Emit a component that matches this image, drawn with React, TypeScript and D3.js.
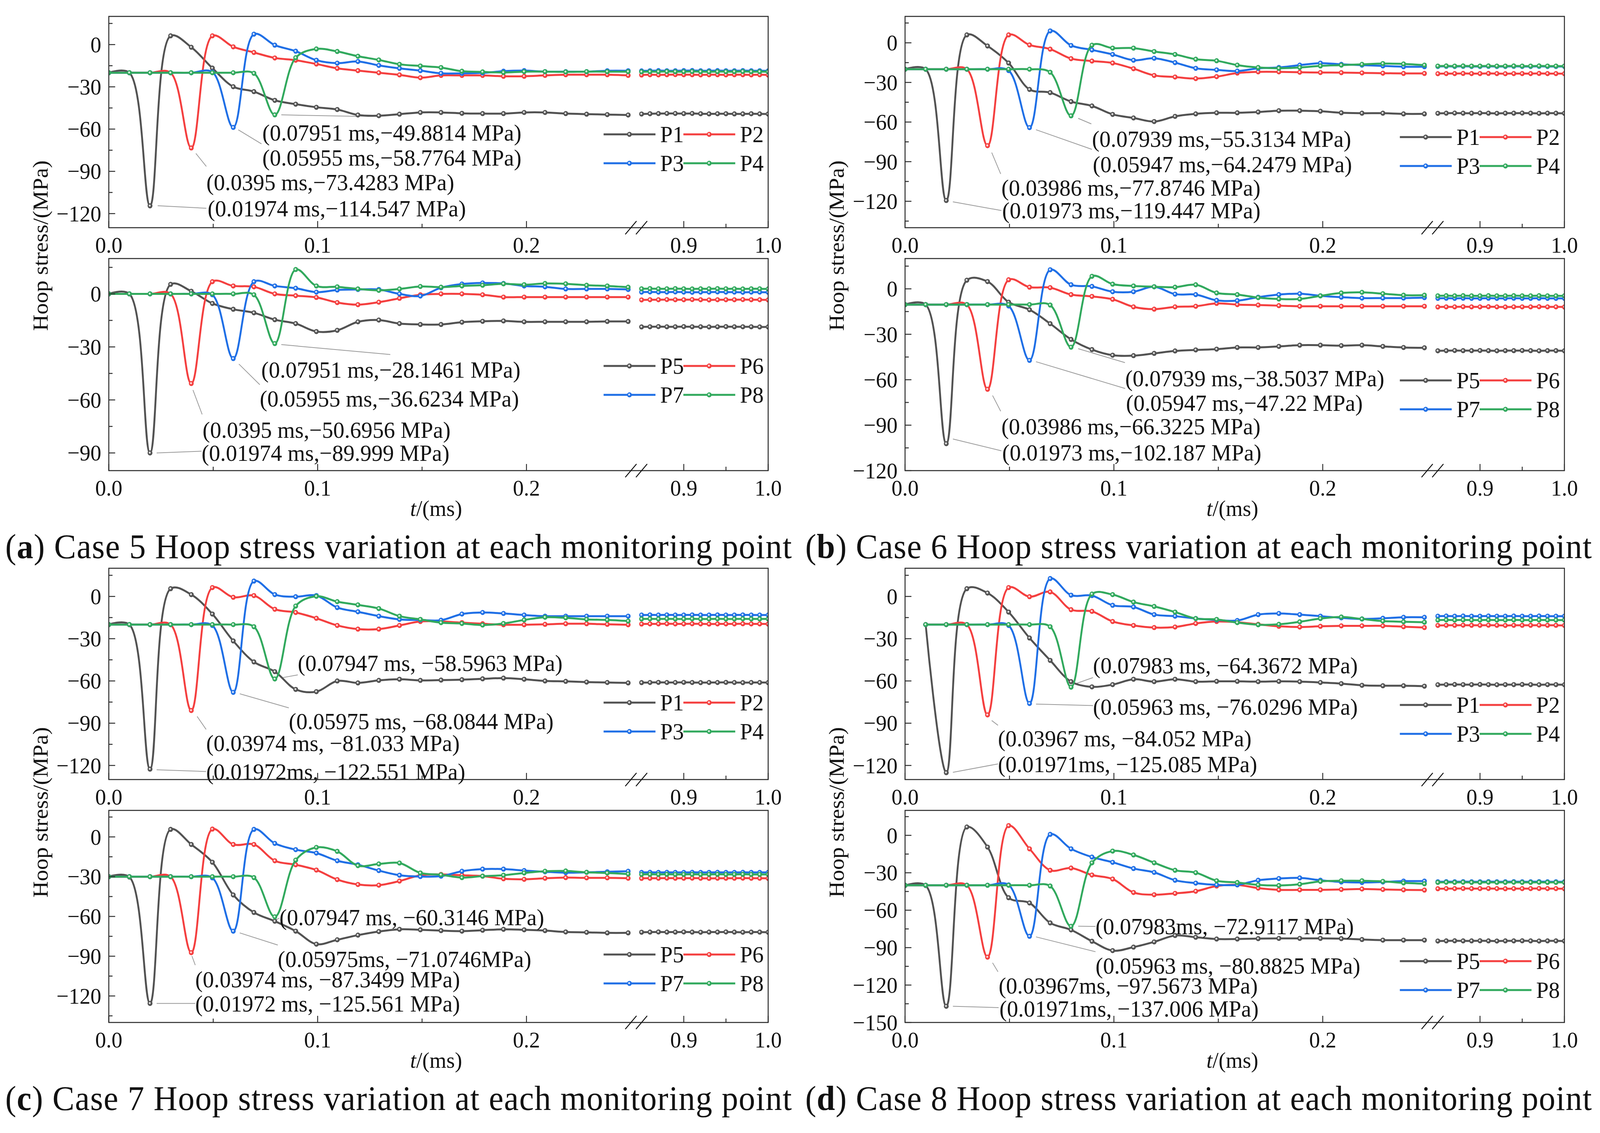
import React from "react";
import * as d3 from "d3";

// ---------- time axis (ms) ----------
const T1 = [0, 0.00987, 0.01974, 0.0296, 0.0395, 0.0496, 0.0596, 0.0695, 0.0795, 0.0895, 0.0994, 0.1094, 0.1193, 0.1293, 0.1392, 0.1492, 0.1591, 0.1691, 0.179, 0.189, 0.1989, 0.2089, 0.2188, 0.2288, 0.2387, 0.2487];
const T2 = [0.85, 0.86, 0.87, 0.88, 0.89, 0.9, 0.91, 0.92, 0.93, 0.94, 0.95, 0.96, 0.97, 0.98, 0.99, 1.0];
const X_MAJOR_1 = [0, 0.1, 0.2];
const X_MINOR_1 = [0.05, 0.15];
const X_MAJOR_2 = [0.9, 1.0];
const X_MINOR_2 = [0.95];

const NAMES_UP = ["P1", "P2", "P3", "P4"];
const NAMES_LOW = ["P5", "P6", "P7", "P8"];
const CAPTIONS = [
  { tag: "a", text: " Case 5 Hoop stress variation at each monitoring point" },
  { tag: "b", text: " Case 6 Hoop stress variation at each monitoring point" },
  { tag: "c", text: " Case 7 Hoop stress variation at each monitoring point" },
  { tag: "d", text: " Case 8 Hoop stress variation at each monitoring point" },
];

// ---------- Case 5 ----------
const C5_UP = [
  [-20, -20, -114.5, 6.2, -1.9, -16.7, -29.9, -33.4, -39.6, -42.3, -44.5, -46.1, -50, -50.5, -49.4, -48.2, -48.2, -48.8, -49, -49, -48.2, -48.2, -49, -49.4, -49.7, -50],
  [-20, -20, -20, -20, -73.4, 6.2, -1.6, -5.6, -9.5, -11.1, -13.8, -16.9, -18.5, -20, -21.5, -23.5, -21.9, -21.9, -21.9, -22.5, -22.5, -21.9, -21.4, -21.4, -21.4, -21.9],
  [-20, -20, -20, -20, -20, -19.5, -58.8, 7.4, -0.4, -4.7, -11.1, -13.2, -12, -14.8, -16.9, -18.5, -20.4, -20.4, -20.1, -18.9, -18.5, -19.2, -19.2, -19.2, -18.6, -18.6],
  [-20, -20, -20, -20, -20, -20, -20, -20.4, -49.9, -9.3, -3.1, -4.9, -8.3, -10.9, -14, -15.2, -16.3, -18.9, -19.4, -19.8, -19.2, -19.2, -19.4, -19.2, -19.2, -19.2],
];
const C5_UP_TAIL = [
  [-49.3, -49.1, -49.0, -48.9, -48.9, -49.0, -48.9, -49.1, -49.2, -49.1, -49.1, -49.2, -49.2, -49.1, -49.2, -49.3],
  [-21.6, -21.4, -21.5, -21.4, -21.3, -21.4, -21.4, -21.5, -21.4, -21.4, -21.5, -21.4, -21.4, -21.5, -21.4, -21.6],
  [-18.7, -18.6, -18.5, -18.6, -18.6, -18.5, -18.4, -18.6, -18.6, -18.5, -18.6, -18.6, -18.5, -18.6, -18.6, -18.7],
  [-19.3, -19.2, -19.2, -19.1, -19.2, -19.2, -19.1, -19.2, -19.3, -19.2, -19.2, -19.2, -19.1, -19.2, -19.2, -19.3],
];
const C5_LOW = [
  [0, 0, -90, 5.4, 1.5, -5.4, -8.7, -10.7, -14.6, -16.8, -21.3, -20.6, -15.8, -14.8, -16.8, -17.3, -17.3, -16, -15.5, -15.3, -15.8, -15.8, -15.8, -15.8, -15.6, -15.6],
  [0, 0, 0, 0, -50.7, 6.9, 4.5, 4, 0, -1, -2, -4.9, -6.1, -4.7, -2.5, -0.5, 0, 0, -0.5, -1.8, -1.8, -1.8, -1.8, -1.8, -1.8, -1.8],
  [0, 0, 0, 0, 0, -0.5, -36.6, 6.9, 4.5, 3.2, 1, 2.2, 2.5, 2.5, 0, -1.2, 3.5, 5.6, 6.2, 5.9, 4.5, 4, 2.8, 2.8, 2.8, 2.5],
  [0, 0, 0, 0, 0, 0, 0, -0.5, -28.1, 13.8, 4.5, 4, 2.8, 2, 2.8, 4.2, 3.8, 4.5, 4.9, 5.7, 5.2, 5.9, 5.7, 4.9, 4.5, 3.8],
];
const C5_LOW_TAIL = [
  [-18.7, -18.6, -18.5, -18.6, -18.6, -18.5, -18.6, -18.6, -18.7, -18.6, -18.5, -18.6, -18.6, -18.6, -18.7, -18.7],
  [-3.4, -3.3, -3.3, -3.2, -3.3, -3.3, -3.2, -3.3, -3.4, -3.3, -3.3, -3.3, -3.2, -3.3, -3.3, -3.4],
  [1.0, 1.1, 1.0, 1.0, 1.1, 1.0, 0.9, 1.0, 1.0, 1.1, 1.0, 1.0, 0.9, 1.0, 1.0, 0.9],
  [2.9, 3.0, 2.9, 2.9, 3.0, 2.9, 2.8, 2.9, 2.9, 3.0, 2.9, 2.9, 2.8, 2.9, 2.9, 2.8],
];

// ---------- Case 6 ----------
const C6_UP = [
  [-20, -20, -119.4, 6, -2.4, -15.3, -35.3, -37.7, -44.5, -47.8, -54.2, -56.9, -59.6, -55.7, -53.8, -53, -53, -52.4, -51.4, -51.4, -51.8, -53, -53.3, -53.3, -53.8, -53.8],
  [-20, -20, -20, -20, -77.9, 6, -1.6, -4.8, -12, -13.8, -15.3, -19.6, -24.7, -25.9, -27.1, -25.6, -22.9, -22, -22, -22.3, -22.5, -22.6, -22.8, -23, -23.2, -23.2],
  [-20, -20, -20, -20, -20, -21, -64.2, 9, -2, -5.4, -8.8, -13.2, -11.7, -15, -19.3, -20.5, -21.4, -19.3, -18.7, -16.9, -15.4, -16.3, -16.9, -17.5, -18.1, -18.1],
  [-20, -20, -20, -20, -20, -20, -20, -22.3, -55.3, -1.8, -4, -4, -6.6, -8.8, -12.4, -13.6, -16.9, -18.7, -19.3, -18.7, -17.5, -16.9, -16.3, -15.7, -16, -16.9],
];
const C6_UP_TAIL = [
  [-53.4, -53.3, -53.2, -53.3, -53.3, -53.2, -53.3, -53.4, -53.3, -53.3, -53.2, -53.3, -53.4, -53.3, -53.3, -53.4],
  [-23.4, -23.3, -23.3, -23.2, -23.3, -23.3, -23.2, -23.3, -23.4, -23.3, -23.3, -23.3, -23.2, -23.3, -23.3, -23.4],
  [-17.9, -17.8, -17.9, -17.8, -17.9, -17.9, -17.8, -17.9, -17.9, -17.8, -17.9, -17.9, -17.8, -17.9, -17.9, -17.9],
  [-17.6, -17.5, -17.6, -17.5, -17.6, -17.6, -17.5, -17.6, -17.6, -17.5, -17.6, -17.6, -17.5, -17.6, -17.6, -17.6],
];
const C6_LOW = [
  [-10.4, -10.4, -102.2, 5.7, 4.8, -8.8, -13.8, -23, -33.4, -40.1, -43.8, -44.1, -42.6, -41, -40.3, -39.8, -38.7, -38.7, -38, -37.2, -37.2, -37.5, -37.2, -38, -38.7, -38.9],
  [-10.4, -10.4, -10.4, -10.4, -66.3, 6, 1.1, 0.8, -3.8, -5, -6.9, -11.9, -13.4, -11.9, -11.5, -9.6, -10.4, -10.7, -11.1, -11.5, -11.5, -11.5, -11.5, -11.5, -11.5, -11.5],
  [-10.4, -10.4, -10.4, -10.4, -10.4, -11.3, -47.2, 12.6, 2.7, 1.6, -1.9, -1.9, 1.4, -3.5, -3.8, -7.6, -7.8, -5.5, -3.8, -3.2, -4.6, -5.5, -6.1, -6.1, -6.1, -5.8],
  [-10.4, -10.4, -10.4, -10.4, -10.4, -10.4, -10.4, -10.7, -38.5, 8.3, 3.1, 1.9, 1.4, 1.1, 2.7, -2.7, -3.8, -5.8, -6.7, -6.7, -4.6, -2.7, -2.3, -3.2, -4.2, -4.2],
];
const C6_LOW_TAIL = [
  [-40.9, -40.8, -40.7, -40.8, -40.8, -40.7, -40.8, -40.9, -40.8, -40.8, -40.7, -40.8, -40.9, -40.8, -40.8, -40.9],
  [-12.0, -11.9, -11.9, -11.8, -11.9, -11.9, -11.8, -11.9, -12.0, -11.9, -11.9, -11.9, -11.8, -11.9, -11.9, -12.0],
  [-6.3, -6.2, -6.3, -6.2, -6.3, -6.3, -6.2, -6.3, -6.3, -6.2, -6.3, -6.3, -6.2, -6.3, -6.3, -6.3],
  [-4.6, -4.5, -4.6, -4.5, -4.6, -4.6, -4.5, -4.6, -4.6, -4.5, -4.6, -4.6, -4.5, -4.6, -4.6, -4.6],
];

// ---------- Case 7 ----------
const C7_UP = [
  [-20, -20, -122.6, 5.5, 1.3, -12.5, -31.6, -46.5, -53.4, -66, -67.6, -60, -61.4, -59.6, -58.8, -59.6, -59.4, -59.1, -58.5, -58, -58.8, -60, -60.3, -60.8, -61.1, -61.4],
  [-20, -20, -20, -20, -81, 6.3, -0.6, 0.6, -9.1, -11.4, -15.5, -20.6, -23.2, -23.2, -20.6, -17.8, -17.8, -18.6, -19.4, -20.1, -20.1, -19.8, -19.4, -19.4, -19.8, -20.1],
  [-20, -20, -20, -20, -20, -20.6, -68.1, 10.9, 1.3, -0.2, 0.6, -7.9, -10.9, -14, -16.3, -16.7, -16.9, -12.5, -11.4, -12.1, -13.2, -14, -14, -14, -14, -14],
  [-20, -20, -20, -20, -20, -20, -20, -21.5, -58.6, -6.8, 0.1, -3.7, -6, -8.6, -14, -16.3, -18.6, -19.2, -20.3, -19.2, -16.7, -14.8, -15.2, -16.3, -16.7, -17.5],
];
const C7_UP_TAIL = [
  [-61.2, -61.1, -61.0, -61.1, -61.1, -61.0, -61.1, -61.2, -61.1, -61.1, -61.0, -61.1, -61.2, -61.1, -61.1, -61.2],
  [-19.6, -19.5, -19.5, -19.4, -19.5, -19.5, -19.4, -19.5, -19.6, -19.5, -19.5, -19.5, -19.4, -19.5, -19.5, -19.6],
  [-13.2, -13.1, -13.2, -13.1, -13.2, -13.2, -13.1, -13.2, -13.2, -13.1, -13.2, -13.2, -13.1, -13.2, -13.2, -13.2],
  [-16.0, -15.9, -16.0, -15.9, -16.0, -16.0, -15.9, -16.0, -16.0, -15.9, -16.0, -16.0, -15.9, -16.0, -16.0, -16.0],
];
const C7_LOW = [
  [-30, -30.3, -125.6, 5.7, -5.7, -19.1, -43.8, -57, -63.6, -71.1, -80.9, -77.6, -74.1, -71.4, -69.7, -70.1, -70.7, -71.1, -70.4, -69.7, -70.1, -70.7, -71.7, -72, -72.4, -72.4],
  [-30, -30, -30, -30, -87.3, 5.9, -5.7, -5.7, -18, -21, -25, -32.2, -35.9, -36.4, -33.3, -28.9, -28.3, -28.9, -29.6, -31.6, -32, -31.2, -30.7, -30.9, -30.9, -31.2],
  [-30, -30, -30, -30, -30, -30.9, -71.1, 5.7, -4.9, -9.6, -12.2, -18, -21, -25.4, -28.9, -29.9, -29.6, -25.9, -24.3, -24.3, -25.4, -26.3, -27, -26.7, -26.3, -25.9],
  [-30, -30, -30, -30, -30, -30, -30, -30.7, -60.3, -17.5, -7.9, -10.9, -21.7, -20.4, -19.7, -27.2, -28.6, -30.7, -29.6, -28.9, -27.2, -25.9, -25.7, -26.7, -27.2, -28],
];
const C7_LOW_TAIL = [
  [-71.9, -71.8, -71.7, -71.8, -71.8, -71.7, -71.8, -71.9, -71.8, -71.8, -71.7, -71.8, -71.9, -71.8, -71.8, -71.9],
  [-31.3, -31.2, -31.2, -31.1, -31.2, -31.2, -31.1, -31.2, -31.3, -31.2, -31.2, -31.2, -31.1, -31.2, -31.2, -31.3],
  [-26.8, -26.7, -26.8, -26.7, -26.8, -26.8, -26.7, -26.8, -26.8, -26.7, -26.8, -26.8, -26.7, -26.8, -26.8, -26.8],
  [-28.3, -28.2, -28.3, -28.2, -28.3, -28.3, -28.2, -28.3, -28.3, -28.2, -28.3, -28.3, -28.2, -28.3, -28.3, -28.3],
];

// ---------- Case 8 ----------
const C8_UP = [
  [null, -20, -125.1, 5.5, 2.4, -11.1, -29.5, -45.4, -60.5, -64.2, -62.6, -58.8, -60.5, -58.8, -60.5, -60.3, -60.3, -60.5, -60.3, -60.5, -61.1, -61.9, -63.1, -63.4, -63.4, -63.7],
  [null, -20, -20, -20, -84.1, 6.3, -0.2, 3.2, -9.4, -10.6, -17.8, -20.6, -22.1, -21.7, -19.2, -17.8, -18.3, -19.8, -21.2, -21.7, -21.2, -20.9, -20.9, -20.9, -21.5, -22.1],
  [null, -20, -20, -20, -20, -20.6, -76, 12.7, 0.9, 0.6, -6.3, -7.5, -12.9, -14, -15.7, -16.7, -17.1, -12.9, -12.1, -12.9, -14, -15.2, -16, -15.5, -14.8, -14.8],
  [null, -20, -20, -20, -20, -20, -20, -21.5, -64.4, 1.7, 1.3, -4, -7.1, -11.1, -15.7, -16.3, -18.6, -20.1, -19.8, -18, -15.7, -14.6, -16, -17.5, -18, -18.3],
];
const C8_UP_TAIL = [
  [-62.7, -62.6, -62.5, -62.6, -62.6, -62.5, -62.6, -62.7, -62.6, -62.6, -62.5, -62.6, -62.7, -62.6, -62.6, -62.7],
  [-20.6, -20.5, -20.5, -20.4, -20.5, -20.5, -20.4, -20.5, -20.6, -20.5, -20.5, -20.5, -20.4, -20.5, -20.5, -20.6],
  [-14.0, -13.9, -14.0, -13.9, -14.0, -14.0, -13.9, -14.0, -14.0, -13.9, -14.0, -14.0, -13.9, -14.0, -14.0, -14.0],
  [-16.8, -16.7, -16.8, -16.7, -16.8, -16.8, -16.7, -16.8, -16.8, -16.7, -16.8, -16.8, -16.7, -16.8, -16.8, -16.8],
];
const C8_LOW = [
  [-40.2, -40.2, -137, 6.7, -9.4, -50, -54.2, -70.2, -75.8, -84.9, -92.4, -89.6, -85.4, -80.3, -81.7, -83.1, -83.1, -82.8, -82.6, -82.6, -82.6, -82.8, -83.5, -84, -84, -84],
  [-40, -40, -40, -40, -97.6, 7.8, -10.8, -28, -26.2, -31.8, -35, -45.8, -47.6, -46.5, -44.8, -40.6, -39.7, -42.3, -43.7, -43.7, -43.7, -43.4, -43, -43.4, -43.7, -43.9],
  [-40, -40, -40, -40, -40, -39.7, -80.9, 0.8, -10.8, -17.4, -21.6, -26.6, -29.7, -36, -38.3, -39.7, -39.7, -36, -34.6, -34.1, -36, -37.4, -37.8, -37.4, -36.7, -36.7],
  [-40, -40, -40, -40, -40, -40, -40, -40.6, -72.9, -22, -12.6, -15.7, -22, -28, -29.9, -36.4, -37.8, -39.7, -40.2, -39.2, -36.9, -36.4, -36.4, -36.9, -38.1, -38.8],
];
const C8_LOW_TAIL = [
  [-84.7, -84.6, -84.5, -84.6, -84.6, -84.5, -84.6, -84.7, -84.6, -84.6, -84.5, -84.6, -84.7, -84.6, -84.6, -84.7],
  [-42.8, -42.7, -42.7, -42.6, -42.7, -42.7, -42.6, -42.7, -42.8, -42.7, -42.7, -42.7, -42.6, -42.7, -42.7, -42.8],
  [-37.2, -37.1, -37.2, -37.1, -37.2, -37.2, -37.1, -37.2, -37.2, -37.1, -37.2, -37.2, -37.1, -37.2, -37.2, -37.2],
  [-37.7, -37.6, -37.7, -37.6, -37.7, -37.7, -37.6, -37.7, -37.7, -37.6, -37.7, -37.7, -37.6, -37.7, -37.7, -37.7],
];

// ---------- peak annotations: leader start (lx,ly) -> end (ex,ey), label left/center (tx,ty), in data units ----------
type Note = { text: string; lx: number; ly: number; ex: number; ey: number; tx: number; ty: number };
const N5_UP: Note[] = [
  { text: "(0.07951 ms,\u221249.8814 MPa)", lx: 0.0826, ly: -49.9, ex: 0.12, ey: -51, tx: 0.0735, ty: -62.4 },
  { text: "(0.05955 ms,\u221258.7764 MPa)", lx: 0.062, ly: -60.5, ex: 0.0731, ey: -70.5, tx: 0.0735, ty: -80.4 },
  { text: "(0.0395 ms,\u221273.4283 MPa)", lx: 0.0417, ly: -77.3, ex: 0.0467, ey: -86.5, tx: 0.0467, ty: -97.7 },
  { text: "(0.01974 ms,\u2212114.547 MPa)", lx: 0.0234, ly: -114.4, ex: 0.0467, ey: -116.2, tx: 0.0473, ty: -116.3 },
];
const N5_LOW: Note[] = [
  { text: "(0.07951 ms,\u221228.1461 MPa)", lx: 0.0826, ly: -28.7, ex: 0.1348, ey: -34.3, tx: 0.073, ty: -42.8 },
  { text: "(0.05955 ms,\u221236.6234 MPa)", lx: 0.0623, ly: -39.7, ex: 0.0723, ey: -51.4, tx: 0.0723, ty: -59.2 },
  { text: "(0.0395 ms,\u221250.6956 MPa)", lx: 0.0403, ly: -54.4, ex: 0.0447, ey: -68.2, tx: 0.0449, ty: -77 },
  { text: "(0.01974 ms,\u221289.999 MPa)", lx: 0.0229, ly: -90, ex: 0.0444, ey: -89, tx: 0.0444, ty: -90 },
];
const N6_UP: Note[] = [
  { text: "(0.07939 ms,\u221255.3134 MPa)", lx: 0.0829, ly: -57.2, ex: 0.0892, ey: -61.4, tx: 0.0895, ty: -72.8 },
  { text: "(0.05947 ms,\u221264.2479 MPa)", lx: 0.0627, ly: -65.8, ex: 0.0895, ey: -80.7, tx: 0.0899, ty: -92.1 },
  { text: "(0.03986 ms,\u221277.8746 MPa)", lx: 0.0415, ly: -83.1, ex: 0.0458, ey: -99.3, tx: 0.0461, ty: -109.6 },
  { text: "(0.01973 ms,\u2212119.447 MPa)", lx: 0.0229, ly: -120.4, ex: 0.0461, ey: -127, tx: 0.0465, ty: -127 },
];
const N6_LOW: Note[] = [
  { text: "(0.07939 ms,\u221238.5037 MPa)", lx: 0.0829, ly: -39.5, ex: 0.1053, ey: -48.7, tx: 0.1054, ty: -59 },
  { text: "(0.05947 ms,\u221247.22 MPa)", lx: 0.0627, ly: -48.1, ex: 0.1054, ey: -65.8, tx: 0.1058, ty: -75.2 },
  { text: "(0.03986 ms,\u221266.3225 MPa)", lx: 0.0419, ly: -70.4, ex: 0.0458, ey: -80.8, tx: 0.0461, ty: -90.7 },
  { text: "(0.01973 ms,\u2212102.187 MPa)", lx: 0.0229, ly: -99.1, ex: 0.0461, ey: -106.9, tx: 0.0465, ty: -108 },
];
const N7_UP: Note[] = [
  { text: "(0.07947 ms, \u221258.5963 MPa)", lx: 0.0834, ly: -57.6, ex: 0.0905, ey: -55.7, tx: 0.0905, ty: -47.3 },
  { text: "(0.05975 ms, \u221268.0844 MPa)", lx: 0.0627, ly: -69.1, ex: 0.0862, ey: -79.1, tx: 0.0862, ty: -88.7 },
  { text: "(0.03974 ms, \u221281.033 MPa)", lx: 0.0423, ly: -85.2, ex: 0.0466, ey: -94.4, tx: 0.0466, ty: -104.2 },
  { text: "(0.01972ms, \u2212122.551 MPa)", lx: 0.0229, ly: -123.1, ex: 0.0466, ey: -124.3, tx: 0.0466, ty: -124.3 },
];
const N7_LOW: Note[] = [
  { text: "(0.07947 ms, \u221260.3146 MPa)", lx: 0.0793, ly: -63.2, ex: 0.0817, ey: -61.2, tx: 0.0817, ty: -60.5 },
  { text: "(0.05975ms, \u221271.0746MPa)", lx: 0.0627, ly: -72.4, ex: 0.0809, ey: -81.6, tx: 0.0809, ty: -92.1 },
  { text: "(0.03974 ms, \u221287.3499 MPa)", lx: 0.0398, ly: -89.9, ex: 0.0414, ey: -96.7, tx: 0.0414, ty: -107.6 },
  { text: "(0.01972 ms, \u2212125.561 MPa)", lx: 0.0229, ly: -125.6, ex: 0.0414, ey: -125.6, tx: 0.0414, ty: -125.6 },
];
const N8_UP: Note[] = [
  { text: "(0.07983 ms, \u221264.3672 MPa)", lx: 0.0812, ly: -62.2, ex: 0.09, ey: -57.6, tx: 0.09, ty: -49 },
  { text: "(0.05963 ms, \u221276.0296 MPa)", lx: 0.0627, ly: -76.4, ex: 0.09, ey: -77.5, tx: 0.09, ty: -78.3 },
  { text: "(0.03967 ms, \u221284.052 MPa)", lx: 0.0415, ly: -88.1, ex: 0.0445, ey: -91.5, tx: 0.0445, ty: -100.7 },
  { text: "(0.01971ms, \u2212125.085 MPa)", lx: 0.0229, ly: -124.9, ex: 0.0445, ey: -118.9, tx: 0.0445, ty: -119.1 },
];
const N8_LOW: Note[] = [
  { text: "(0.07983ms, \u221272.9117 MPa)", lx: 0.0829, ly: -72.8, ex: 0.0912, ey: -73, tx: 0.0912, ty: -73 },
  { text: "(0.05963 ms, \u221280.8825 MPa)", lx: 0.0627, ly: -81.4, ex: 0.0912, ey: -93.3, tx: 0.0912, ty: -104.5 },
  { text: "(0.03967ms, \u221297.5673 MPa)", lx: 0.0419, ly: -102.2, ex: 0.0445, ey: -109.4, tx: 0.0448, ty: -120.6 },
  { text: "(0.01971ms, \u2212137.006 MPa)", lx: 0.0229, ly: -137, ex: 0.0448, ey: -138.1, tx: 0.0452, ty: -138.8 },
];

// ---------- style & layout ----------
const W = 4272;
const H = 2901;
const FONT = "'Liberation Serif', 'Times New Roman', serif";
const COLORS = ["#525252", "#f43f3f", "#1f6fe6", "#31a95d"];
const COL_LEFT = [290.5, 2416.5];
const ROW_SHIFT = [0, 1413];
const UPPER = { top: 42, bottom: 583 };
const LOWER = { top: 662, bottom: 1205 };
const SEG1_W = 1394;
const SEG2_X = 1422.5;
const PLOT_W = 1760.5;

type PanelDef = {
  id: string;
  col: number;
  row: number;
  lower: boolean;
  yDomain: [number, number];
  seg1: (number | null)[][];
  seg2: number[][];
  names: string[];
  notes: Note[];
  legendDy: number;
};

const PANELS: PanelDef[] = [
  { id: "a1", col: 0, row: 0, lower: false, yDomain: [-130, 20], seg1: C5_UP, seg2: C5_UP_TAIL, names: NAMES_UP, notes: N5_UP, legendDy: 302 },
  { id: "a2", col: 0, row: 0, lower: true, yDomain: [-100, 20], seg1: C5_LOW, seg2: C5_LOW_TAIL, names: NAMES_LOW, notes: N5_LOW, legendDy: 275 },
  { id: "b1", col: 1, row: 0, lower: false, yDomain: [-140, 20], seg1: C6_UP, seg2: C6_UP_TAIL, names: NAMES_UP, notes: N6_UP, legendDy: 309 },
  { id: "b2", col: 1, row: 0, lower: true, yDomain: [-120, 20], seg1: C6_LOW, seg2: C6_LOW_TAIL, names: NAMES_LOW, notes: N6_LOW, legendDy: 312 },
  { id: "c1", col: 0, row: 1, lower: false, yDomain: [-130, 20], seg1: C7_UP, seg2: C7_UP_TAIL, names: NAMES_UP, notes: N7_UP, legendDy: 344 },
  { id: "c2", col: 0, row: 1, lower: true, yDomain: [-140, 20], seg1: C7_LOW, seg2: C7_LOW_TAIL, names: NAMES_LOW, notes: N7_LOW, legendDy: 369 },
  { id: "d1", col: 1, row: 1, lower: false, yDomain: [-130, 20], seg1: C8_UP, seg2: C8_UP_TAIL, names: NAMES_UP, notes: N8_UP, legendDy: 350 },
  { id: "d2", col: 1, row: 1, lower: true, yDomain: [-150, 20], seg1: C8_LOW, seg2: C8_LOW_TAIL, names: NAMES_LOW, notes: N8_LOW, legendDy: 386 },
];

const fmtY = (v: number) => d3.format("d")(v).replace("-", "\u2212");
const fmtX = d3.format(".1f");

function Marker({ cx, cy, color }: { cx: number; cy: number; color: string }) {
  return (
    <g>
      <circle cx={cx} cy={cy} r={6.5} fill={color} />
      <circle cx={cx - 0.8} cy={cy - 0.8} r={2.6} fill="#ffffff" opacity={0.8} />
    </g>
  );
}

function Panel({ p }: { p: PanelDef }) {
  const left = COL_LEFT[p.col];
  const box = p.lower ? LOWER : UPPER;
  const top = box.top + ROW_SHIFT[p.row];
  const bottom = box.bottom + ROW_SHIFT[p.row];
  const right = left + PLOT_W;

  const xa = d3.scaleLinear().domain([0, 0.25]).range([left, left + SEG1_W]);
  const xb = d3.scaleLinear().domain([0.85, 1.0]).range([left + SEG2_X, right]);
  const y = d3.scaleLinear().domain(p.yDomain).range([bottom, top]);

  type Pt = [number, number | null];
  const lineA = d3
    .line<Pt>()
    .defined((d) => d[1] !== null)
    .x((d) => xa(d[0]))
    .y((d) => y(d[1] as number))
    .curve(d3.curveCatmullRom.alpha(0.5));
  const lineB = d3
    .line<Pt>()
    .x((d) => xb(d[0]))
    .y((d) => y(d[1] as number))
    .curve(d3.curveCatmullRom.alpha(0.5));

  const majors = d3.range(0, p.yDomain[0] - 0.001, -30);
  const minors = d3.range(15, p.yDomain[0], -30);

  const legX = right - 439.4;
  const legY = top + p.legendDy;
  const clipId = `clip-${p.id}`;

  return (
    <g>
      <defs>
        <clipPath id={clipId}>
          <rect x={left} y={top} width={PLOT_W} height={bottom - top} />
        </clipPath>
      </defs>

      {/* leader lines */}
      {p.notes.map((n, i) => (
        <line key={`l${i}`} x1={xa(n.lx)} y1={y(n.ly)} x2={xa(n.ex)} y2={y(n.ey)} stroke="#9a9a9a" strokeWidth={2} />
      ))}

      <g clipPath={`url(#${clipId})`}>
        {p.seg1.map((vals, si) => {
          const ptsA: Pt[] = T1.map((t, i) => [t, vals[i]]);
          const ptsB: Pt[] = T2.map((t, i) => [t, p.seg2[si][i]]);
          return (
            <g key={si}>
              <path d={lineA(ptsA) || ""} fill="none" stroke={COLORS[si]} strokeWidth={5} strokeLinejoin="round" />
              <path d={lineB(ptsB) || ""} fill="none" stroke={COLORS[si]} strokeWidth={5} strokeLinejoin="round" />
              {ptsA
                .filter((d) => d[1] !== null)
                .map((d, i) => (
                  <Marker key={`a${i}`} cx={xa(d[0])} cy={y(d[1] as number)} color={COLORS[si]} />
                ))}
              {ptsB.map((d, i) => (
                <Marker key={`b${i}`} cx={xb(d[0])} cy={y(d[1] as number)} color={COLORS[si]} />
              ))}
            </g>
          );
        })}
      </g>

      {/* annotation labels */}
      {p.notes.map((n, i) => (
        <text key={`t${i}`} x={xa(n.tx)} y={y(n.ty)} dy="0.34em" fontSize={60} fontFamily={FONT} fill="#111">
          {n.text}
        </text>
      ))}

      {/* legend */}
      {p.names.map((name, i) => {
        const lx = legX + (i % 2) * 213;
        const ly = legY + Math.floor(i / 2) * 74;
        return (
          <g key={name}>
            <line x1={lx} y1={ly} x2={lx + 138.5} y2={ly} stroke={COLORS[i]} strokeWidth={5} />
            <Marker cx={lx + 69} cy={ly} color={COLORS[i]} />
            <text x={lx + 151} y={ly} dy="0.34em" fontSize={60} fontFamily={FONT} fill="#111">
              {name}
            </text>
          </g>
        );
      })}

      {/* frame */}
      <rect x={left} y={top} width={PLOT_W} height={bottom - top} fill="none" stroke="#2a2a2a" strokeWidth={2.6} />

      {/* y ticks */}
      {majors.map((v) => (
        <g key={`ym${v}`}>
          <line x1={left} x2={left + 17} y1={y(v)} y2={y(v)} stroke="#2a2a2a" strokeWidth={2.4} />
          <text x={left - 20} y={y(v)} dy="0.34em" textAnchor="end" fontSize={58} fontFamily={FONT} fill="#111">
            {fmtY(v)}
          </text>
        </g>
      ))}
      {minors.map((v) => (
        <line key={`yn${v}`} x1={left} x2={left + 10} y1={y(v)} y2={y(v)} stroke="#2a2a2a" strokeWidth={2.4} />
      ))}

      {/* x ticks */}
      {X_MAJOR_1.map((t) => (
        <g key={`xa${t}`}>
          <line x1={xa(t)} x2={xa(t)} y1={bottom} y2={bottom - 17} stroke="#2a2a2a" strokeWidth={2.4} />
          <text x={xa(t)} y={bottom + 64} textAnchor="middle" fontSize={58} fontFamily={FONT} fill="#111">
            {fmtX(t)}
          </text>
        </g>
      ))}
      {X_MINOR_1.map((t) => (
        <line key={`xan${t}`} x1={xa(t)} x2={xa(t)} y1={bottom} y2={bottom - 10} stroke="#2a2a2a" strokeWidth={2.4} />
      ))}
      {X_MAJOR_2.map((t) => (
        <g key={`xb${t}`}>
          <line x1={xb(t)} x2={xb(t)} y1={bottom} y2={bottom - 17} stroke="#2a2a2a" strokeWidth={2.4} />
          <text x={xb(t)} y={bottom + 64} textAnchor="middle" fontSize={58} fontFamily={FONT} fill="#111">
            {fmtX(t)}
          </text>
        </g>
      ))}
      {X_MINOR_2.map((t) => (
        <line key={`xbn${t}`} x1={xb(t)} x2={xb(t)} y1={bottom} y2={bottom - 10} stroke="#2a2a2a" strokeWidth={2.4} />
      ))}

      {/* axis break marks */}
      {[xa(0.25), xb(0.85)].map((cx, i) => (
        <line key={`br${i}`} x1={cx - 15} y1={bottom + 17} x2={cx + 15} y2={bottom - 17} stroke="#111" strokeWidth={2.6} />
      ))}

      {p.lower && (
        <text x={left + 874} y={bottom + 116} textAnchor="middle" fontSize={58} fontFamily={FONT} fill="#111">
          <tspan fontStyle="italic">t</tspan>/(ms)
        </text>
      )}
    </g>
  );
}

export default function App() {
  const titleY = [629, 2080];
  const capY = [1429, 2842];
  const capX = [14, 2150];
  return (
    <svg
      viewBox={`0 0 ${W} ${H}`}
      preserveAspectRatio="none"
      style={{ position: "fixed", left: 0, top: 0, width: "100vw", height: "100vh", background: "#ffffff", display: "block" }}
      xmlns="http://www.w3.org/2000/svg"
    >
      <rect x={0} y={0} width={W} height={H} fill="#ffffff" />
      {PANELS.map((p) => (
        <Panel key={p.id} p={p} />
      ))}
      {[0, 1].map((row) =>
        [0, 1].map((col) => (
          <text
            key={`yt${row}${col}`}
            transform={`translate(${COL_LEFT[col] - 183},${titleY[row]}) rotate(-90)`}
            textAnchor="middle"
            dy="0.34em"
            fontSize={58}
            fontFamily={FONT}
            fill="#111"
          >
            Hoop stress/(MPa)
          </text>
        ))
      )}
      {CAPTIONS.map((c, i) => (
        <text
          key={c.tag}
          x={capX[i % 2]}
          y={capY[Math.floor(i / 2)]}
          fontSize={88}
          fontFamily={FONT}
          fill="#111"
          textLength={2100}
          lengthAdjust="spacing"
        >
          (<tspan fontWeight="bold">{c.tag}</tspan>){c.text}
        </text>
      ))}
    </svg>
  );
}
